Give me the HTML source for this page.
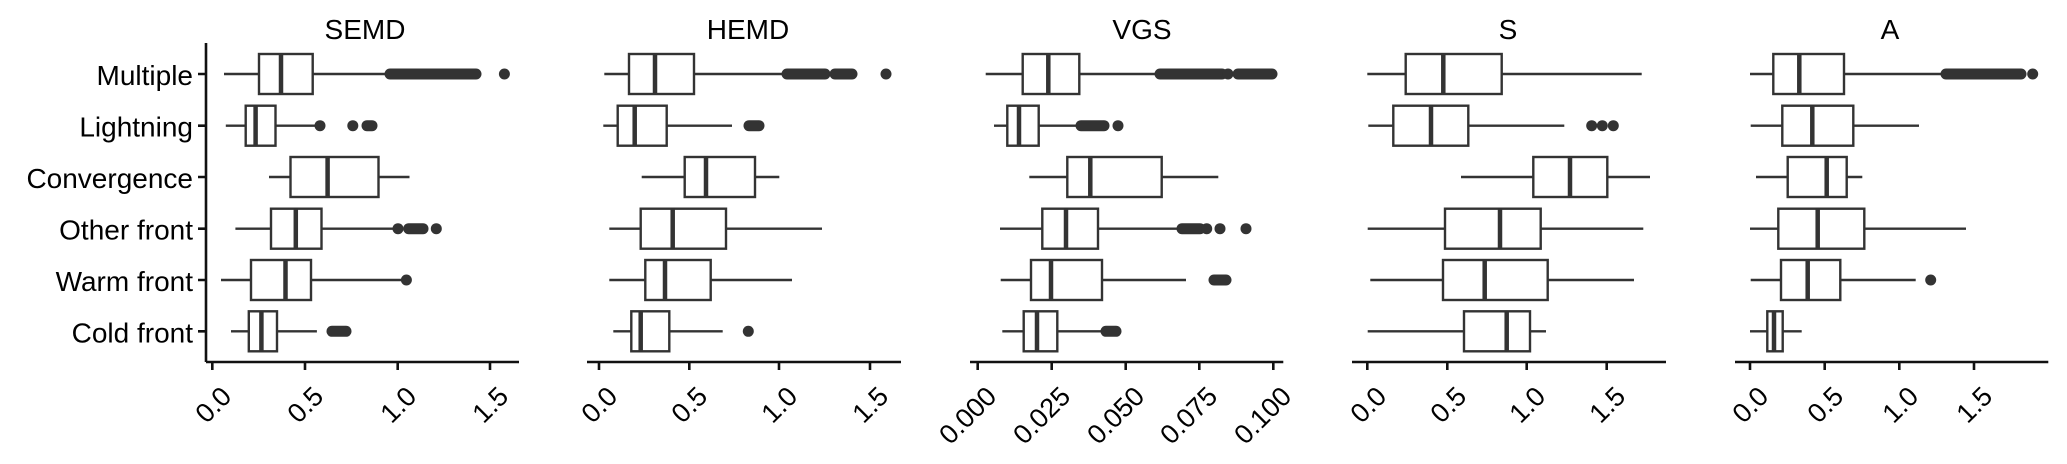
<!DOCTYPE html>
<html><head><meta charset="utf-8"><style>
html,body{margin:0;padding:0;background:#fff;}
svg{display:block;}
text{font-family:"Liberation Sans",Arial,sans-serif;fill:#000;}
.b{fill:#fff;stroke:#333;stroke-width:2.4;}
.w{stroke:#333;stroke-width:2.4;}
.m{stroke:#333;stroke-width:4.5;}
.o{fill:#333;}
.r{stroke:#333;stroke-width:11;stroke-linecap:round;}
.ax{stroke:#111;stroke-width:2.6;fill:none;}
.t{font-size:27px;}
.ti{font-size:28px;text-anchor:middle;}
.yl{font-size:28px;text-anchor:end;}
</style></head><body>
<svg width="2067" height="464" viewBox="0 0 2067 464" xmlns="http://www.w3.org/2000/svg">
<defs></defs>
<!-- Y axis labels -->
<text class="yl" x="193" y="85">Multiple</text>
<text class="yl" x="193" y="136.7">Lightning</text>
<text class="yl" x="193" y="188">Convergence</text>
<text class="yl" x="193" y="239.7">Other front</text>
<text class="yl" x="193" y="291">Warm front</text>
<text class="yl" x="193" y="342.3">Cold front</text>
<path class="ax" d="M206 43V362M198 74H206M198 125.7H206M198 177H206M198 228.7H206M198 280H206M198 331.3H206"/>

<!-- titles -->
<text class="ti" x="365" y="39">SEMD</text>
<text class="ti" x="748" y="39">HEMD</text>
<text class="ti" x="1142" y="39">VGS</text>
<text class="ti" x="1508" y="39">S</text>
<text class="ti" x="1890" y="39">A</text>

<!-- ===== SEMD ===== -->
<path class="ax" d="M206 362H519M212.3 362V370M305 362V370M397.7 362V370M490 362V370"/>
<g class="t" text-anchor="end">
<text transform="translate(233,398) rotate(-45)">0.0</text>
<text transform="translate(325,398) rotate(-45)">0.5</text>
<text transform="translate(418,398) rotate(-45)">1.0</text>
<text transform="translate(510,398) rotate(-45)">1.5</text>
</g>
<g>
<line class="w" x1="224" y1="74" x2="390" y2="74"/><rect class="b" x="259" y="54" width="53.7" height="40"/><line class="m" x1="281" y1="54" x2="281" y2="94"/>
<line class="r" x1="390" y1="74" x2="476" y2="74"/><circle class="o" cx="504.4" cy="74" r="5.5"/>
<line class="w" x1="225.8" y1="125.7" x2="320" y2="125.7"/><rect class="b" x="245.7" y="105.7" width="29.8" height="40"/><line class="m" x1="255.6" y1="105.7" x2="255.6" y2="145.7"/>
<circle class="o" cx="320" cy="125.7" r="5.5"/><circle class="o" cx="352.8" cy="125.7" r="5.5"/><line class="r" x1="367" y1="125.7" x2="372" y2="125.7"/>
<line class="w" x1="269" y1="177" x2="409.5" y2="177"/><rect class="b" x="290.5" y="157" width="88" height="40"/><line class="m" x1="327.6" y1="157" x2="327.6" y2="197"/>
<line class="w" x1="235.4" y1="228.7" x2="398" y2="228.7"/><rect class="b" x="271" y="208.7" width="50.5" height="40"/><line class="m" x1="295.8" y1="208.7" x2="295.8" y2="248.7"/>
<circle class="o" cx="398" cy="228.7" r="5.5"/><line class="r" x1="408.7" y1="228.7" x2="423" y2="228.7"/><circle class="o" cx="436.3" cy="228.7" r="5.5"/>
<line class="w" x1="221" y1="280" x2="406.4" y2="280"/><rect class="b" x="251" y="260" width="60" height="40"/><line class="m" x1="285.5" y1="260" x2="285.5" y2="300"/><circle class="o" cx="406.4" cy="280" r="5.5"/>
<line class="w" x1="231" y1="331.3" x2="316.9" y2="331.3"/><rect class="b" x="248.8" y="311.3" width="28.2" height="40"/><line class="m" x1="261.4" y1="311.3" x2="261.4" y2="351.3"/>
<line class="r" x1="332" y1="331.3" x2="346" y2="331.3"/>
</g>

<!-- ===== HEMD ===== -->
<path class="ax" d="M587 362H901M599 362V370M689.3 362V370M779 362V370M870 362V370"/>
<g class="t" text-anchor="end">
<text transform="translate(619,398) rotate(-45)">0.0</text>
<text transform="translate(709,398) rotate(-45)">0.5</text>
<text transform="translate(799,398) rotate(-45)">1.0</text>
<text transform="translate(890,398) rotate(-45)">1.5</text>
</g>
<g>
<line class="w" x1="604.3" y1="74" x2="786.7" y2="74"/><rect class="b" x="629" y="54" width="65" height="40"/><line class="m" x1="655" y1="54" x2="655" y2="94"/>
<line class="r" x1="787" y1="74" x2="825" y2="74"/><line class="r" x1="835" y1="74" x2="852" y2="74"/><circle class="o" cx="886" cy="74" r="5.5"/>
<line class="w" x1="603.3" y1="125.7" x2="732" y2="125.7"/><rect class="b" x="617.7" y="105.7" width="49" height="40"/><line class="m" x1="634.7" y1="105.7" x2="634.7" y2="145.7"/>
<line class="r" x1="749" y1="125.7" x2="759" y2="125.7"/>
<line class="w" x1="641.7" y1="177" x2="779.3" y2="177"/><rect class="b" x="684.7" y="157" width="70.3" height="40"/><line class="m" x1="706" y1="157" x2="706" y2="197"/>
<line class="w" x1="609.3" y1="228.7" x2="822" y2="228.7"/><rect class="b" x="640.7" y="208.7" width="85.3" height="40"/><line class="m" x1="672.7" y1="208.7" x2="672.7" y2="248.7"/>
<line class="w" x1="609.3" y1="280" x2="792" y2="280"/><rect class="b" x="645.3" y="260" width="65.4" height="40"/><line class="m" x1="665" y1="260" x2="665" y2="300"/>
<line class="w" x1="613.3" y1="331.3" x2="722.7" y2="331.3"/><rect class="b" x="631.3" y="311.3" width="38" height="40"/><line class="m" x1="640.7" y1="311.3" x2="640.7" y2="351.3"/>
<circle class="o" cx="748.3" cy="331.3" r="5.5"/>
</g>

<!-- ===== VGS ===== -->
<path class="ax" d="M970 362H1283.3M977.7 362V370M1051.7 362V370M1125.7 362V370M1199.3 362V370M1273.3 362V370"/>
<g class="t" text-anchor="end">
<text transform="translate(998,398) rotate(-45)">0.000</text>
<text transform="translate(1072,398) rotate(-45)">0.025</text>
<text transform="translate(1146,398) rotate(-45)">0.050</text>
<text transform="translate(1219,398) rotate(-45)">0.075</text>
<text transform="translate(1293,398) rotate(-45)">0.100</text>
</g>
<g>
<line class="w" x1="985.7" y1="74" x2="1160" y2="74"/><rect class="b" x="1022.7" y="54" width="56.6" height="40"/><line class="m" x1="1048.3" y1="54" x2="1048.3" y2="94"/>
<line class="r" x1="1160" y1="74" x2="1222" y2="74"/><circle class="o" cx="1228" cy="74" r="5.5"/><line class="r" x1="1238" y1="74" x2="1272" y2="74"/>
<line class="w" x1="994" y1="125.7" x2="1080" y2="125.7"/><rect class="b" x="1007.3" y="105.7" width="31.4" height="40"/><line class="m" x1="1019" y1="105.7" x2="1019" y2="145.7"/>
<line class="r" x1="1081" y1="125.7" x2="1104" y2="125.7"/><circle class="o" cx="1118" cy="125.7" r="5.5"/>
<line class="w" x1="1029.3" y1="177" x2="1218.3" y2="177"/><rect class="b" x="1067.3" y="157" width="94.4" height="40"/><line class="m" x1="1090.3" y1="157" x2="1090.3" y2="197"/>
<line class="w" x1="1000" y1="228.7" x2="1177.3" y2="228.7"/><rect class="b" x="1042.3" y="208.7" width="55.7" height="40"/><line class="m" x1="1066" y1="208.7" x2="1066" y2="248.7"/>
<line class="r" x1="1182" y1="228.7" x2="1200" y2="228.7"/><circle class="o" cx="1206.7" cy="228.7" r="5.5"/><circle class="o" cx="1220" cy="228.7" r="5.5"/><circle class="o" cx="1246" cy="228.7" r="5.5"/>
<line class="w" x1="1000.7" y1="280" x2="1186" y2="280"/><rect class="b" x="1031" y="260" width="71" height="40"/><line class="m" x1="1051" y1="260" x2="1051" y2="300"/>
<line class="r" x1="1214" y1="280" x2="1226" y2="280"/>
<line class="w" x1="1002.3" y1="331.3" x2="1105" y2="331.3"/><rect class="b" x="1023.7" y="311.3" width="33.6" height="40"/><line class="m" x1="1037" y1="311.3" x2="1037" y2="351.3"/>
<line class="r" x1="1106" y1="331.3" x2="1116" y2="331.3"/>
</g>

<!-- ===== S ===== -->
<path class="ax" d="M1352 362H1666M1367.3 362V370M1447.3 362V370M1526.7 362V370M1606.7 362V370"/>
<g class="t" text-anchor="end">
<text transform="translate(1388,398) rotate(-45)">0.0</text>
<text transform="translate(1468,398) rotate(-45)">0.5</text>
<text transform="translate(1547,398) rotate(-45)">1.0</text>
<text transform="translate(1627,398) rotate(-45)">1.5</text>
</g>
<g>
<line class="w" x1="1367.3" y1="74" x2="1641.7" y2="74"/><rect class="b" x="1405.7" y="54" width="96" height="40"/><line class="m" x1="1443.3" y1="54" x2="1443.3" y2="94"/>
<line class="w" x1="1368.3" y1="125.7" x2="1564.3" y2="125.7"/><rect class="b" x="1393.3" y="105.7" width="75" height="40"/><line class="m" x1="1431" y1="105.7" x2="1431" y2="145.7"/>
<circle class="o" cx="1591.7" cy="125.7" r="5.5"/><circle class="o" cx="1602.3" cy="125.7" r="5.5"/><circle class="o" cx="1613.3" cy="125.7" r="5.5"/>
<line class="w" x1="1461" y1="177" x2="1650" y2="177"/><rect class="b" x="1533.3" y="157" width="74" height="40"/><line class="m" x1="1570" y1="157" x2="1570" y2="197"/>
<line class="w" x1="1367.7" y1="228.7" x2="1643.3" y2="228.7"/><rect class="b" x="1445" y="208.7" width="95.7" height="40"/><line class="m" x1="1500" y1="208.7" x2="1500" y2="248.7"/>
<line class="w" x1="1370.3" y1="280" x2="1634" y2="280"/><rect class="b" x="1443" y="260" width="104.7" height="40"/><line class="m" x1="1484.7" y1="260" x2="1484.7" y2="300"/>
<line class="w" x1="1367.7" y1="331.3" x2="1546" y2="331.3"/><rect class="b" x="1464" y="311.3" width="66" height="40"/><line class="m" x1="1506.7" y1="311.3" x2="1506.7" y2="351.3"/>
</g>

<!-- ===== A ===== -->
<path class="ax" d="M1735 362H2048.3M1750 362V370M1824.7 362V370M1899.3 362V370M1974 362V370"/>
<g class="t" text-anchor="end">
<text transform="translate(1770,398) rotate(-45)">0.0</text>
<text transform="translate(1845,398) rotate(-45)">0.5</text>
<text transform="translate(1920,398) rotate(-45)">1.0</text>
<text transform="translate(1994,398) rotate(-45)">1.5</text>
</g>
<g>
<line class="w" x1="1750" y1="74" x2="1945" y2="74"/><rect class="b" x="1773.3" y="54" width="70.7" height="40"/><line class="m" x1="1799.3" y1="54" x2="1799.3" y2="94"/>
<line class="r" x1="1946" y1="74" x2="2021" y2="74"/><circle class="o" cx="2032.7" cy="74" r="5.5"/>
<line class="w" x1="1750.7" y1="125.7" x2="1919" y2="125.7"/><rect class="b" x="1782.3" y="105.7" width="71" height="40"/><line class="m" x1="1812.3" y1="105.7" x2="1812.3" y2="145.7"/>
<line class="w" x1="1756" y1="177" x2="1862.3" y2="177"/><rect class="b" x="1787.7" y="157" width="59" height="40"/><line class="m" x1="1826.7" y1="157" x2="1826.7" y2="197"/>
<line class="w" x1="1750" y1="228.7" x2="1966" y2="228.7"/><rect class="b" x="1778.3" y="208.7" width="86" height="40"/><line class="m" x1="1817.7" y1="208.7" x2="1817.7" y2="248.7"/>
<line class="w" x1="1750.7" y1="280" x2="1915.7" y2="280"/><rect class="b" x="1781" y="260" width="59.3" height="40"/><line class="m" x1="1807.7" y1="260" x2="1807.7" y2="300"/>
<circle class="o" cx="1930.7" cy="280" r="5.5"/>
<line class="w" x1="1750" y1="331.3" x2="1801.7" y2="331.3"/><rect class="b" x="1767.3" y="311.3" width="15.4" height="40"/><line class="m" x1="1774" y1="311.3" x2="1774" y2="351.3"/>
</g>
</svg>
</body></html>
